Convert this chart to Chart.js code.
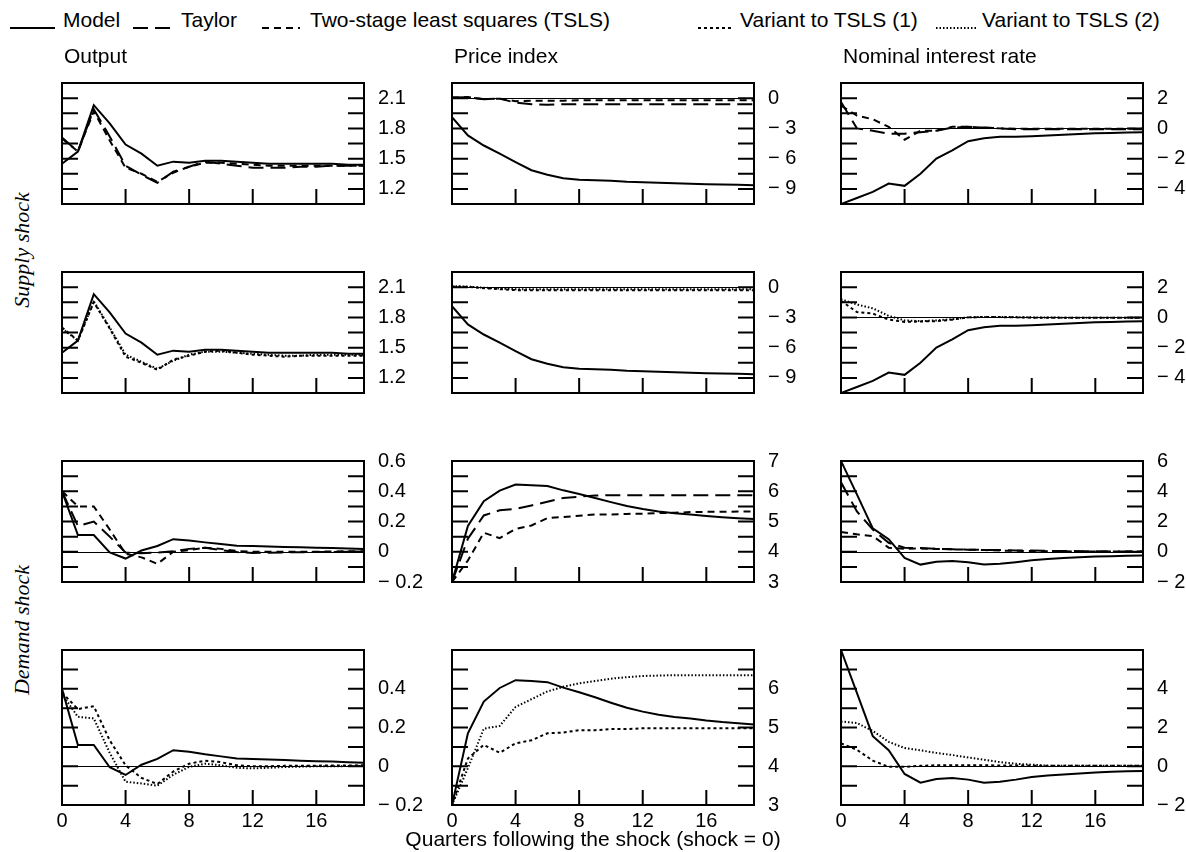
<!DOCTYPE html>
<html>
<head>
<meta charset="utf-8">
<script src="https://cdn.jsdelivr.net/npm/chart.js@4.4.0/dist/chart.umd.min.js"></script>
<style>
  body { margin: 0; background: #fff; width: 1186px; height: 852px; position: relative; overflow: hidden;
         font-family: "Liberation Sans", Arial, sans-serif; color: #000; }
  canvas.panel { position: absolute; }
  .txt { position: absolute; font-size: 21px; line-height: 22px; white-space: nowrap; }
  .rowlab { position: absolute; font-family: "Liberation Serif", "Times New Roman", serif; font-style: italic;
            font-size: 22px; white-space: nowrap; transform: translate(-50%, -50%) rotate(-90deg); }
  svg.sample { position: absolute; overflow: visible; }
</style>
</head>
<body>
<script>
// ---- data (x = quarters after the shock) ----
const quarters = [0, 1, 2, 3, 4, 5, 6, 7, 8, 9, 10, 11, 12, 13, 14, 15, 16, 17, 18, 19];
const xTickLabels = [0, 4, 8, 12, 16];

// supply shock
const outputSupplyModel  = [1.45, 1.57, 2.03, 1.85, 1.64, 1.55, 1.43, 1.47, 1.46, 1.48, 1.48, 1.47, 1.46, 1.45, 1.45, 1.45, 1.45, 1.45, 1.44, 1.44];
const outputSupplyTaylor = [1.71, 1.57, 1.99, 1.72, 1.43, 1.34, 1.26, 1.37, 1.42, 1.47, 1.45, 1.43, 1.41, 1.41, 1.41, 1.42, 1.42, 1.43, 1.43, 1.43];
const outputSupplyTsls   = [1.70, 1.57, 1.97, 1.68, 1.41, 1.35, 1.27, 1.36, 1.42, 1.46, 1.46, 1.45, 1.44, 1.43, 1.43, 1.43, 1.43, 1.43, 1.43, 1.43];
const outputSupplyVar1   = [1.70, 1.57, 1.95, 1.69, 1.41, 1.35, 1.28, 1.38, 1.42, 1.46, 1.47, 1.45, 1.43, 1.42, 1.41, 1.42, 1.42, 1.42, 1.42, 1.42];
const outputSupplyVar2   = [1.69, 1.57, 1.96, 1.70, 1.43, 1.36, 1.29, 1.37, 1.43, 1.46, 1.46, 1.45, 1.44, 1.43, 1.42, 1.42, 1.43, 1.43, 1.43, 1.43];

const priceSupplyModel  = [-1.9, -3.7, -4.7, -5.5, -6.35, -7.15, -7.6, -7.95, -8.1, -8.15, -8.2, -8.3, -8.35, -8.4, -8.45, -8.5, -8.55, -8.57, -8.6, -8.65];
const priceSupplyTaylor = [0.05, 0.1, -0.1, -0.05, -0.45, -0.6, -0.65, -0.6, -0.6, -0.6, -0.6, -0.6, -0.6, -0.6, -0.6, -0.6, -0.6, -0.6, -0.6, -0.6];
const priceSupplyTsls   = [0.05, 0.1, -0.1, -0.05, -0.3, -0.25, -0.25, -0.25, -0.2, -0.2, -0.2, -0.2, -0.2, -0.2, -0.2, -0.2, -0.2, -0.2, -0.2, -0.2];
const priceSupplyVar1   = [0.05, 0.02, -0.1, -0.2, -0.3, -0.3, -0.3, -0.3, -0.3, -0.3, -0.3, -0.3, -0.3, -0.3, -0.3, -0.3, -0.3, -0.3, -0.3, -0.3];
const priceSupplyVar2   = [0.1, 0.05, -0.05, -0.15, -0.2, -0.2, -0.2, -0.2, -0.2, -0.2, -0.2, -0.2, -0.2, -0.2, -0.2, -0.2, -0.2, -0.2, -0.2, -0.2];

const rateSupplyModel  = [-5.0, -4.6, -4.2, -3.65, -3.8, -3.0, -2.0, -1.45, -0.85, -0.65, -0.55, -0.55, -0.52, -0.47, -0.42, -0.37, -0.33, -0.3, -0.27, -0.25];
const rateSupplyTaylor = [1.75, 0.0, -0.15, -0.35, -0.35, -0.25, -0.15, 0.05, 0.1, 0.05, 0.0, -0.05, -0.05, -0.05, -0.05, -0.05, -0.05, -0.05, -0.05, -0.05];
const rateSupplyTsls   = [1.5, 0.85, 0.6, 0.1, -0.75, -0.15, -0.15, 0.1, 0.1, 0.05, 0.0, -0.02, -0.03, -0.03, -0.03, -0.03, -0.03, -0.03, -0.03, -0.03];
const rateSupplyVar1   = [1.1, 0.35, 0.25, -0.15, -0.3, -0.27, -0.25, -0.15, 0.0, 0.03, 0.02, 0.0, -0.02, -0.03, -0.03, -0.03, -0.03, -0.03, -0.03, -0.03];
const rateSupplyVar2   = [1.2, 0.85, 0.6, 0.1, -0.2, -0.25, -0.2, -0.12, 0.0, 0.03, 0.03, 0.02, 0.0, 0.0, -0.02, -0.02, -0.02, -0.02, -0.02, -0.02];

// demand shock
const outputDemandModel  = [0.40, 0.11, 0.11, -0.005, -0.045, 0.008, 0.038, 0.083, 0.075, 0.062, 0.051, 0.04, 0.038, 0.035, 0.032, 0.029, 0.026, 0.024, 0.021, 0.018];
const outputDemandTaylor = [0.40, 0.17, 0.20, 0.10, -0.005, -0.01, -0.005, 0.003, 0.019, 0.027, 0.011, -0.002, -0.008, -0.006, -0.004, -0.003, -0.002, -0.001, 0.0, 0.0];
const outputDemandTsls   = [0.40, 0.30, 0.30, 0.147, -0.013, -0.037, -0.08, 0.0, 0.011, 0.027, 0.019, 0.005, 0.0, 0.0, 0.0, 0.0, 0.0, 0.002, 0.003, 0.003];
const outputDemandVar1   = [0.38, 0.295, 0.31, 0.134, 0.005, -0.06, -0.092, -0.027, 0.013, 0.029, 0.021, 0.005, 0.0, 0.0, 0.002, 0.003, 0.003, 0.004, 0.004, 0.005];
const outputDemandVar2   = [0.373, 0.255, 0.247, 0.069, -0.08, -0.089, -0.1, -0.044, -0.003, 0.013, 0.005, -0.008, -0.011, -0.008, -0.004, -0.002, 0.0, 0.0, 0.001, 0.001];

const priceDemandModel  = [3.0, 4.85, 5.67, 6.02, 6.22, 6.2, 6.17, 6.03, 5.91, 5.78, 5.64, 5.51, 5.41, 5.33, 5.27, 5.23, 5.18, 5.14, 5.11, 5.08];
const priceDemandTaylor = [3.0, 4.43, 5.2, 5.37, 5.42, 5.53, 5.65, 5.78, 5.82, 5.86, 5.87, 5.87, 5.87, 5.87, 5.87, 5.87, 5.87, 5.87, 5.87, 5.87];
const priceDemandTsls   = [3.0, 3.71, 4.63, 4.45, 4.75, 4.87, 5.11, 5.15, 5.19, 5.23, 5.23, 5.25, 5.26, 5.28, 5.29, 5.31, 5.32, 5.32, 5.33, 5.33];
const priceDemandVar1   = [3.0, 4.2, 4.55, 4.35, 4.59, 4.67, 4.85, 4.87, 4.93, 4.93, 4.96, 4.96, 4.98, 4.98, 4.98, 4.98, 4.98, 4.98, 4.98, 4.98];
const priceDemandVar2   = [3.0, 3.95, 4.97, 5.04, 5.53, 5.73, 5.93, 6.05, 6.14, 6.2, 6.26, 6.3, 6.33, 6.34, 6.35, 6.35, 6.35, 6.35, 6.35, 6.35];

const rateDemandModel  = [6.0, 3.79, 1.55, 0.83, -0.4, -0.85, -0.66, -0.61, -0.69, -0.85, -0.8, -0.69, -0.56, -0.48, -0.42, -0.37, -0.32, -0.29, -0.26, -0.24];
const rateDemandTaylor = [4.59, 2.67, 1.47, 0.59, 0.27, 0.24, 0.19, 0.16, 0.14, 0.12, 0.11, 0.09, 0.08, 0.06, 0.05, 0.04, 0.03, 0.02, 0.01, 0.01];
const rateDemandTsls   = [1.31, 1.15, 1.04, 0.27, 0.19, 0.22, 0.19, 0.16, 0.14, 0.11, 0.08, 0.06, 0.05, 0.04, 0.03, 0.02, 0.02, 0.01, 0.01, 0.01];
const rateDemandVar1   = [1.18, 0.85, 0.29, -0.03, -0.03, 0.02, 0.05, 0.05, 0.05, 0.05, 0.04, 0.04, 0.03, 0.03, 0.03, 0.02, 0.02, 0.02, 0.02, 0.02];
const rateDemandVar2   = [2.31, 2.23, 1.82, 1.26, 0.94, 0.82, 0.69, 0.58, 0.45, 0.34, 0.21, 0.13, 0.08, 0.03, 0.02, 0.02, 0.02, 0.02, 0.02, 0.02];

// y axes: [min, max, minor tick step] and the labelled ticks
const outputSupplyAxis = [1.05, 2.25, 0.15], outputSupplyLabels = [1.2, 1.5, 1.8, 2.1];
const priceSupplyAxis  = [-10.5, 1.5, 1.5],  priceSupplyLabels  = [-9, -6, -3, 0];
const rateSupplyAxis   = [-5, 3, 1],         rateSupplyLabels   = [-4, -2, 0, 2];
const outputDemandAxis = [-0.2, 0.6, 0.1],   outputDemandLabels = [-0.2, 0, 0.2, 0.4, 0.6], outputDemandLabels2 = [-0.2, 0, 0.2, 0.4];
const priceDemandAxis  = [3, 7, 0.5],        priceDemandLabels  = [3, 4, 5, 6, 7],          priceDemandLabels2  = [3, 4, 5, 6];
const rateDemandAxis   = [-2, 6, 1],         rateDemandLabels   = [-2, 0, 2, 4, 6],         rateDemandLabels2   = [-2, 0, 2, 4];

const columnTitles = ["Output", "Price index", "Nominal interest rate"];
const legendNames = ["Model", "Taylor", "Two-stage least squares (TSLS)", "Variant to TSLS (1)", "Variant to TSLS (2)"];

// ---- layout ----
const COL_LEFT = [62, 452, 841];
const ROW_TOP = [73, 262, 451, 640];
const PLOT_W = 302, PLOT_H = 165;
const PAD_L = 14, PAD_T = 16, PAD_B = 16, AXIS_W = 80, XAXIS_H = 34;

const DASH = { model: [], taylor: [15, 7], tsls: [7, 5], var1: [3, 3], var2: [1.5, 2] };

function fmt(v) {
  const r = Math.round(v * 100) / 100;
  return r < 0 ? "\u2212 " + Math.abs(r) : String(r);
}

const framePlugin = {
  id: "frame",
  beforeDatasetsDraw(chart) {
    const { ctx, chartArea: a, scales: { y } } = chart;
    if (y.min < 0 && y.max > 0) {
      const py = Math.round(y.getPixelForValue(0)) + 0.5;
      ctx.save();
      ctx.strokeStyle = "#000";
      ctx.lineWidth = 1;
      ctx.beginPath();
      ctx.moveTo(a.left, py);
      ctx.lineTo(a.right, py);
      ctx.stroke();
      ctx.restore();
    }
  },
  afterDatasetsDraw(chart) {
    const { ctx, chartArea: a, scales: { x, y } } = chart;
    ctx.save();
    ctx.strokeStyle = "#000";
    ctx.lineWidth = 2;
    ctx.strokeRect(a.left, a.top, a.right - a.left, a.bottom - a.top);
    ctx.beginPath();
    y.ticks.forEach((t) => {
      if (t.value <= y.min + 1e-9 || t.value >= y.max - 1e-9) return;
      const py = y.getPixelForValue(t.value);
      ctx.moveTo(a.left, py); ctx.lineTo(a.left + 16, py);
      ctx.moveTo(a.right - 16, py); ctx.lineTo(a.right, py);
    });
    xTickLabels.forEach((v) => {
      if (v <= 0) return;
      const px = x.getPixelForValue(v);
      ctx.moveTo(px, a.bottom); ctx.lineTo(px, a.bottom - 15);
    });
    ctx.stroke();
    ctx.restore();
  }
};

function makePanel(col, row, axis, labels, series) {
  const bottomRow = row === 3;
  const w = PAD_L + PLOT_W + AXIS_W;
  const h = PAD_T + PLOT_H + (bottomRow ? XAXIS_H : PAD_B);
  const canvas = document.createElement("canvas");
  canvas.className = "panel";
  canvas.width = w; canvas.height = h;
  canvas.style.width = w + "px"; canvas.style.height = h + "px";
  canvas.style.left = (COL_LEFT[col] - PAD_L) + "px";
  canvas.style.top = (ROW_TOP[row] - PAD_T) + "px";
  document.body.appendChild(canvas);

  const [yMin, yMax, yStep] = axis;
  const yTicks = [];
  const n = Math.round((yMax - yMin) / yStep);
  for (let i = 0; i <= n; i++) yTicks.push(+(yMin + i * yStep).toFixed(4));

  new Chart(canvas, {
    type: "line",
    data: {
      datasets: series.map(([vals, style]) => ({
        data: quarters.map((q, i) => ({ x: q, y: vals[i] })),
        borderColor: "#000",
        borderWidth: 2,
        borderDash: DASH[style],
        pointRadius: 0,
        tension: 0,
        fill: false
      }))
    },
    options: {
      responsive: false,
      animation: false,
      devicePixelRatio: 1,
      layout: { padding: { left: PAD_L, top: PAD_T, right: 0, bottom: bottomRow ? 0 : PAD_B } },
      plugins: { legend: { display: false }, tooltip: { enabled: false } },
      scales: {
        x: {
          type: "linear", min: 0, max: 19,
          display: bottomRow,
          grid: { display: false, drawTicks: false },
          border: { display: false },
          ticks: { color: "#000", font: { size: 20, family: "Liberation Sans" }, padding: 4, maxRotation: 0, autoSkip: false },
          afterBuildTicks: (s) => { s.ticks = xTickLabels.map((v) => ({ value: v })); },
          afterFit: (s) => { s.height = XAXIS_H; }
        },
        y: {
          type: "linear", position: "right", min: yMin, max: yMax,
          grid: { display: false, drawTicks: false },
          border: { display: false },
          ticks: {
            color: "#000", font: { size: 20, family: "Liberation Sans" }, padding: 14, autoSkip: false,
            callback: (v) => (labels.some((l) => Math.abs(l - v) < 1e-6) ? fmt(v) : "")
          },
          afterBuildTicks: (s) => { s.ticks = yTicks.map((v) => ({ value: v })); },
          afterFit: (s) => { s.width = AXIS_W; }
        }
      }
    },
    plugins: [framePlugin]
  });
}

// row 1: supply shock, Model / Taylor / TSLS
makePanel(0, 0, outputSupplyAxis, outputSupplyLabels, [[outputSupplyTaylor, "taylor"], [outputSupplyTsls, "tsls"], [outputSupplyModel, "model"]]);
makePanel(1, 0, priceSupplyAxis, priceSupplyLabels, [[priceSupplyTaylor, "taylor"], [priceSupplyTsls, "tsls"], [priceSupplyModel, "model"]]);
makePanel(2, 0, rateSupplyAxis, rateSupplyLabels, [[rateSupplyTaylor, "taylor"], [rateSupplyTsls, "tsls"], [rateSupplyModel, "model"]]);
// row 2: supply shock, Model / variants
makePanel(0, 1, outputSupplyAxis, outputSupplyLabels, [[outputSupplyVar1, "var1"], [outputSupplyVar2, "var2"], [outputSupplyModel, "model"]]);
makePanel(1, 1, priceSupplyAxis, priceSupplyLabels, [[priceSupplyVar1, "var1"], [priceSupplyVar2, "var2"], [priceSupplyModel, "model"]]);
makePanel(2, 1, rateSupplyAxis, rateSupplyLabels, [[rateSupplyVar1, "var1"], [rateSupplyVar2, "var2"], [rateSupplyModel, "model"]]);
// row 3: demand shock, Model / Taylor / TSLS
makePanel(0, 2, outputDemandAxis, outputDemandLabels, [[outputDemandTaylor, "taylor"], [outputDemandTsls, "tsls"], [outputDemandModel, "model"]]);
makePanel(1, 2, priceDemandAxis, priceDemandLabels, [[priceDemandTaylor, "taylor"], [priceDemandTsls, "tsls"], [priceDemandModel, "model"]]);
makePanel(2, 2, rateDemandAxis, rateDemandLabels, [[rateDemandTaylor, "taylor"], [rateDemandTsls, "tsls"], [rateDemandModel, "model"]]);
// row 4: demand shock, Model / variants
makePanel(0, 3, outputDemandAxis, outputDemandLabels2, [[outputDemandVar1, "var1"], [outputDemandVar2, "var2"], [outputDemandModel, "model"]]);
makePanel(1, 3, priceDemandAxis, priceDemandLabels2, [[priceDemandVar1, "var1"], [priceDemandVar2, "var2"], [priceDemandModel, "model"]]);
makePanel(2, 3, rateDemandAxis, rateDemandLabels2, [[rateDemandVar1, "var1"], [rateDemandVar2, "var2"], [rateDemandModel, "model"]]);

// ---- text: titles, legend, axis captions ----
function addText(cls, text, left, top) {
  const d = document.createElement("div");
  d.className = cls;
  d.textContent = text;
  d.style.left = left + "px";
  d.style.top = top + "px";
  document.body.appendChild(d);
  return d;
}
columnTitles.forEach((t, i) => addText("txt", t, COL_LEFT[i] + 2, 45));

const legendSample = [[10, 55], [133, 173], [262, 300], [698, 732], [936, 976]];
const legendText = [63, 181, 310, 740, 982];
const legendDash = ["model", "taylor", "tsls", "var1", "var2"];
legendNames.forEach((name, i) => {
  const [x0, x1] = legendSample[i];
  const svg = document.createElementNS("http://www.w3.org/2000/svg", "svg");
  svg.setAttribute("class", "sample");
  svg.setAttribute("width", x1 - x0);
  svg.setAttribute("height", 4);
  svg.style.left = x0 + "px";
  svg.style.top = "26px";
  const ln = document.createElementNS("http://www.w3.org/2000/svg", "line");
  ln.setAttribute("x1", 0); ln.setAttribute("x2", x1 - x0);
  ln.setAttribute("y1", 2); ln.setAttribute("y2", 2);
  ln.setAttribute("stroke", "#000"); ln.setAttribute("stroke-width", 2);
  if (DASH[legendDash[i]].length) ln.setAttribute("stroke-dasharray", DASH[legendDash[i]].join(" "));
  svg.appendChild(ln);
  document.body.appendChild(svg);
  addText("txt", name, legendText[i], 9);
});

const cap = addText("txt", "Quarters following the shock (shock = 0)", 593, 828);
cap.style.transform = "translateX(-50%)";
addText("rowlab", "Supply shock", 22, 250);
addText("rowlab", "Demand shock", 22, 630);
</script>
</body>
</html>
